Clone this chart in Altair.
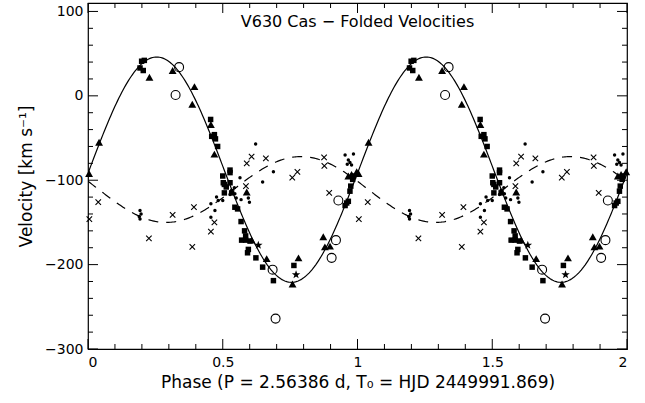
import altair as alt
import pandas as pd

# ---------------- data (phase 0-1, repeated for phase 1-2) ----------------
tri_phase = [0.004, 0.041, 0.228, 0.314, 0.387, 0.395, 0.456, 0.469, 0.589, 0.607,
             0.663, 0.759, 0.781, 0.873, 0.879, 0.898, 0.966, 0.978, 0.997]
tri_vel = [-92, -55, 22, 30, -10, 11, -34, -69, -114, -171,
           -193, -223, -192, -167, -179, -178, -95, -93, -90]

sq_phase = [0.193, 0.199, 0.205, 0.209, 0.455, 0.459, 0.469, 0.473, 0.481, 0.500,
            0.527, 0.527, 0.502, 0.506, 0.513, 0.527, 0.506, 0.533, 0.545, 0.555,
            0.568, 0.581, 0.585, 0.570, 0.585, 0.601, 0.595, 0.592, 0.623, 0.648,
            0.688, 0.764, 0.954, 0.960, 0.966, 0.972, 0.975, 0.982, 0.985]
sq_vel = [33, 41, 30, 42, -28, -48, -46, -51, -60, -95,
          -88, -91, -103, -105, -108, -103, -115, -115, -132, -134,
          -149, -160, -166, -171, -171, -172, -182, -186, -192, -203,
          -219, -201, -130, -127, -125, -113, -107, -99, -95]

dot_phase = [0.193, 0.197, 0.190, 0.193, 0.456, 0.471, 0.456, 0.477, 0.483, 0.500,
             0.527, 0.533, 0.543, 0.545, 0.550, 0.564, 0.568, 0.595, 0.599, 0.622,
             0.648, 0.688, 0.954, 0.985, 0.966, 0.972, 0.962, 0.978]
dot_vel = [-136, -140, -143, -146, -128, -136, -144, -120, -124, -124,
           -117, -112, -109, -116, -121, -97, -123, -121, -126, -57,
           -102, -90, -70, -69, -76, -79, -81, -82]

cross_phase = [0.005, 0.038, 0.226, 0.314, 0.393, 0.387, 0.456, 0.469, 0.586, 0.589,
               0.607, 0.660, 0.758, 0.777, 0.876, 0.877, 0.895]
cross_vel = [-146, -126, -169, -141, -132, -179, -161, -150, -107, -80,
             -72, -74, -97, -90, -73, -83, -115]

star_phase = [0.632, 0.772]
star_vel = [-177, -212]

circ_phase = [0.338, 0.325, 0.685, 0.696, 0.904, 0.920, 0.929]
circ_vel = [34, 1, -206, -264, -192, -171, -124]

# fitted orbit parameters (gamma, K, phase offset)
primary_fit = [-87.5, 133.5, 0.005]
secondary_fit = [-111.0, -39.0, 0.04]

x_major = [0, 0.5, 1, 1.5, 2]
x_minor = [round(i * 0.1, 1) for i in range(21) if i % 5 != 0]
y_major = [-300, -200, -100, 0, 100]
y_minor = [v for v in range(-280, 110, 20) if v % 100 != 0]

title_text = "V630 Cas \u2212 Folded Velocities"
x_title = "Phase (P = 2.56386 d, T\u2080 = HJD 2449991.869)"
y_title = "Velocity [km s\u207b\u00b9]"

FONT = "DejaVu Sans"
W, H = 539, 346


def folded(ph, v):
    rows = []
    for k in (0, 1):
        for p, y in zip(ph, v):
            if 0 <= p + k <= 2:
                rows.append({"phase": p + k, "vel": y})
    return pd.DataFrame(rows)


xs = alt.Scale(domain=[0, 2], nice=False, zero=False)
ys = alt.Scale(domain=[-300, 110], nice=False, zero=False)
x_axis = alt.Axis(values=x_major, format="~g", ticks=False, domain=False, grid=False,
                  labelPadding=6, titlePadding=5, title=x_title)
y_axis = alt.Axis(values=y_major, format="d", ticks=False, domain=False, grid=False,
                  labelPadding=5, titlePadding=9, title=y_title)

X = alt.X("phase:Q", scale=xs, axis=x_axis)
Y = alt.Y("vel:Q", scale=ys, axis=y_axis)


def curve(params, dash=None):
    g, k, p0 = params
    kw = dict(color="black", strokeWidth=1.2, clip=True)
    if dash:
        kw["strokeDash"] = dash
    return (alt.Chart(alt.sequence(0, 2.0001, 0.005, as_="phase"))
            .transform_calculate(vel=f"{g} + {k} * sin(2 * PI * (datum.phase - {p0}))")
            .mark_line(**kw)
            .encode(x=X, y=Y))


solid = curve(primary_fit)
dashed = curve(secondary_fit, dash=[10, 8])

tri = alt.Chart(folded(tri_phase, tri_vel)).mark_point(
    shape="triangle-up", filled=True, color="black", size=62, opacity=1).encode(x=X, y=Y)
sq = alt.Chart(folded(sq_phase, sq_vel)).mark_point(
    shape="square", filled=True, color="black", size=30, opacity=1).encode(x=X, y=Y)
dot = alt.Chart(folded(dot_phase, dot_vel)).mark_point(
    shape="circle", filled=True, color="black", size=12, opacity=1).encode(x=X, y=Y)
crs = alt.Chart(folded(cross_phase, cross_vel)).mark_point(
    shape="M-1,-1L1,1M-1,1L1,-1", filled=False, color="black", strokeWidth=1.1,
    size=30, opacity=1).encode(x=X, y=Y)
star = alt.Chart(folded(star_phase, star_vel)).mark_point(
    shape="M0,-1L0.24,-0.33L0.95,-0.31L0.38,0.12L0.59,0.81L0,0.4L-0.59,0.81L-0.38,0.12L-0.95,-0.31L-0.24,-0.33Z",
    filled=True, color="black", size=80, opacity=1).encode(x=X, y=Y)
circ = alt.Chart(folded(circ_phase, circ_vel)).mark_point(
    shape="circle", filled=False, color="black", strokeWidth=1.1, size=80, opacity=1).encode(x=X, y=Y)


def xticks(vals, length):
    d = pd.DataFrame({"phase": vals})
    b = alt.Chart(d).mark_rule(color="black", strokeWidth=1).encode(
        x=X, y=alt.value(H), y2=alt.value(H - length))
    t = alt.Chart(d).mark_rule(color="black", strokeWidth=1).encode(
        x=X, y=alt.value(0), y2=alt.value(length))
    return [b, t]


def yticks(vals, length):
    d = pd.DataFrame({"vel": vals})
    l = alt.Chart(d).mark_rule(color="black", strokeWidth=1).encode(
        y=Y, x=alt.value(0), x2=alt.value(length))
    r = alt.Chart(d).mark_rule(color="black", strokeWidth=1).encode(
        y=Y, x=alt.value(W), x2=alt.value(W - length))
    return [l, r]


ticks = xticks(x_major, 10) + xticks(x_minor, 5) + yticks(y_major, 10) + yticks(y_minor, 5)

title = alt.Chart(pd.DataFrame({"t": [title_text]})).mark_text(
    font=FONT, fontSize=16, color="black", align="center", baseline="middle").encode(
    text="t:N", x=alt.value(W / 2), y=alt.value(19))

chart = alt.layer(solid, dashed, *ticks, tri, sq, dot, crs, star, circ, title).properties(
    width=W, height=H,
    autosize=alt.AutoSizeParams(type="none"),
    padding={"left": 88, "top": 3, "right": 18, "bottom": 54},
    background="white",
).configure_view(stroke="black", strokeWidth=1.2).configure_axis(
    labelFont=FONT, labelFontSize=14, labelColor="black",
    titleFont=FONT, titleFontSize=17, titleFontWeight="normal", titleColor="black",
)

chart.save("out.html", embed_options={"renderer": "svg", "actions": False})
